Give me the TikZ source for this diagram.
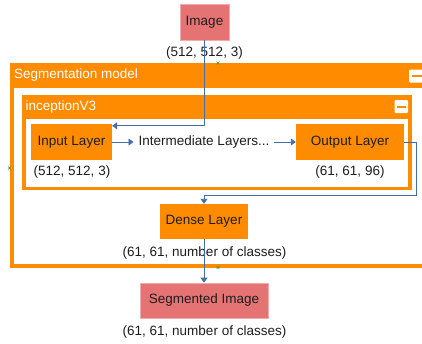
\documentclass[tikz,border=0pt]{standalone}
\usepackage{fontspec}
\setmainfont{Liberation Sans}
\usetikzlibrary{arrows.meta}
\definecolor{pinkbox}{RGB}{229,115,115}
\definecolor{pinkedge}{RGB}{244,170,170}
\definecolor{orangec}{RGB}{255,140,0}
\definecolor{bluec}{RGB}{66,110,168}
\definecolor{txt}{RGB}{30,30,30}
\definecolor{greenc}{RGB}{60,150,60}
\tikzset{
  every node/.style={font=\fontsize{13.5}{16}\selectfont, text=txt},
  pinknode/.style={fill=pinkbox, draw=pinkedge, line width=0.6pt, inner sep=0pt},
  orangenode/.style={fill=orangec, draw=none, inner sep=0pt},
  lbl/.style={inner sep=0pt},
  hdr/.style={text=white, anchor=west, inner sep=0pt},
  arr/.style={draw=bluec, line width=0.9pt, -{Triangle[length=5pt,width=7pt]}},
  minusbox/.style={fill=white, draw=none, rounded corners=1.2pt},
  gmark/.style={draw=greenc, line width=0.6pt}
}
\begin{document}
\begin{tikzpicture}[x=1pt,y=-1pt]
\useasboundingbox (0,0) rectangle (422,343);
% outer container
\fill[orangec] (10,63) rectangle (424,268);
\fill[white] (14,88) rectangle (424,264);
\node[hdr] (segtitle) at (14,75.5) {Segmentation model};
\fill[minusbox] (409,69.5) rectangle (424,82.5);
\draw[orangec, line width=2pt] (411.5,76) -- (424,76);
% inner container
\fill[orangec] (22,95) rectangle (412,190);
\fill[white] (26,119) rectangle (408,187);
\node[hdr] (inctitle) at (25.5,107) {inceptionV3};
\fill[minusbox] (394.5,100) rectangle (408,113);
\draw[orangec, line width=2pt] (397,106.5) -- (405.5,106.5);
% nodes
\node[pinknode, minimum width=49pt, minimum height=36pt] (img) at (204.5,22) {Image};
\node[lbl] (imglbl) at (204.5,53) {(512, 512, 3)};
\node[orangenode, minimum width=81pt, minimum height=36pt] (inp) at (71.5,142) {Input Layer};
\node[lbl] (inplbl) at (72,172) {(512, 512, 3)};
\node[inner sep=5pt] (mid) at (204,142) {Intermediate Layers...};
\node[orangenode, minimum width=108pt, minimum height=36pt] (out) at (350,142) {Output Layer};
\node[lbl] (outlbl) at (350,172) {(61, 61, 96)};
\node[orangenode, minimum width=88pt, minimum height=35pt] (dense) at (204,221.5) {Dense Layer};
\node[lbl] (denselbl) at (204.5,253) {(61, 61, number of classes)};
\node[pinknode, minimum width=128pt, minimum height=35pt] (seg) at (204,300.5) {Segmented Image};
\node[lbl] (seglbl) at (204.5,332) {(61, 61, number of classes)};
% connectors
\draw[arr] (img.south) |- ([yshift=-2pt]inp.north east);
\draw[arr] (inp.east) -- (mid.west);
\draw[arr] (mid.east) -- (out.west);
\coordinate (bend) at (416,195);
\draw[arr] (out.east) -| (bend) -| (dense.north);
\draw[arr] (dense.south) -- (seg.north);
% small green marks
\foreach \p in {(218,63),(9.5,168),(218,267.5)}{
  \draw[gmark] \p ++(-1.5,-1.5) -- ++(3,3) \p ++(-1.5,1.5) -- ++(3,-3);
}
\end{tikzpicture}
\end{document}
